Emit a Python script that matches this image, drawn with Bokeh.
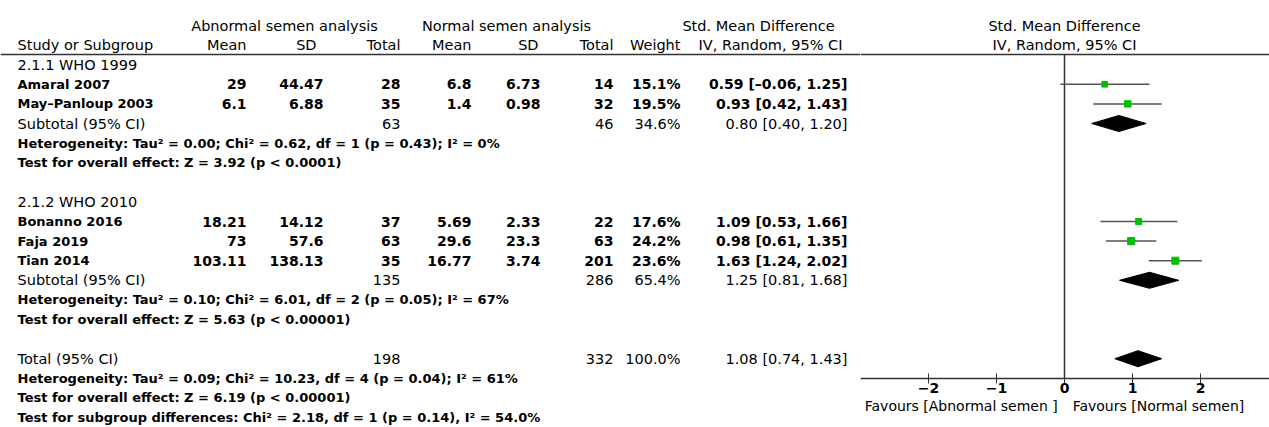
from math import sqrt
from bokeh.plotting import figure
from bokeh.layouts import row
from bokeh.models import Range1d, LinearAxis, FixedTicker, Span
from bokeh.core.properties import value
from bokeh.embed import file_html
from bokeh.resources import INLINE

# ---------------- data ----------------
groups = ["2.1.1 WHO 1999", "2.1.2 WHO 2010"]
study = ["Amaral 2007", "May–Panloup 2003", "Bonanno 2016", "Faja 2019", "Tian 2014"]
study_group = [0, 0, 1, 1, 1]
ab_mean = [29, 6.1, 18.21, 73, 103.11]
ab_sd = [44.47, 6.88, 14.12, 57.6, 138.13]
ab_n = [28, 35, 37, 63, 35]
no_mean = [6.8, 1.4, 5.69, 29.6, 16.77]
no_sd = [6.73, 0.98, 2.33, 23.3, 3.74]
no_n = [14, 32, 22, 63, 201]
weight = [15.1, 19.5, 17.6, 24.2, 23.6]
smd = [0.59, 0.93, 1.09, 0.98, 1.63]
ci_lo = [-0.06, 0.42, 0.53, 0.61, 1.24]
ci_hi = [1.25, 1.43, 1.66, 1.35, 2.02]

sub_ab_n = [63, 135]
sub_no_n = [46, 286]
sub_weight = [34.6, 65.4]
sub_smd = [0.80, 1.25]
sub_lo = [0.40, 0.81]
sub_hi = [1.20, 1.68]
sub_het = ["Heterogeneity: Tau² = 0.00; Chi² = 0.62, df = 1 (p = 0.43); I² = 0%",
           "Heterogeneity: Tau² = 0.10; Chi² = 6.01, df = 2 (p = 0.05); I² = 67%"]
sub_test = ["Test for overall effect: Z = 3.92 (p < 0.0001)",
            "Test for overall effect: Z = 5.63 (p < 0.00001)"]

tot_ab_n = 198
tot_no_n = 332
tot_weight = 100.0
tot_smd = 1.08
tot_lo = 0.74
tot_hi = 1.43
tot_het = "Heterogeneity: Tau² = 0.09; Chi² = 10.23, df = 4 (p = 0.04); I² = 61%"
tot_test = "Test for overall effect: Z = 6.19 (p < 0.00001)"
subgroup_test = "Test for subgroup differences: Chi² = 2.18, df = 1 (p = 0.14), I² = 54.0%"

axis_ticks = [-2, -1, 0, 1, 2]
favours_left = "Favours [Abnormal semen ]"
favours_right = "Favours [Normal semen]"

# ---------------- layout helpers ----------------
FONT = value("DejaVu Sans")
FS = "14.5px"      # normal text
FS_NAME = "13px"   # bold study names / statistics lines
FS_NUM = "14px"    # bold study numbers
H = 427
ROW0 = 25.0        # canvas y of row 0
STEP = 19.6        # px per row
y_top = -ROW0 / STEP
y_bot = (H - ROW0) / STEP

def fmt_ci(m, lo, hi):
    return f"{m:.2f} [{lo:.2f}, {hi:.2f}]".replace("-", "–")

# assign rows
study_rows = [0] * len(study)
group_rows, sub_rows, het_rows, test_rows = [], [], [], []
r = 2
for gi, g in enumerate(groups):
    group_rows.append(r)
    r += 1
    for i, sg in enumerate(study_group):
        if sg == gi:
            study_rows[i] = r
            r += 1
    sub_rows.append(r); r += 1
    het_rows.append(r); r += 1
    test_rows.append(r); r += 1
    r += 1
tot_row = r
tot_het_row = r + 1
tot_test_row = r + 2
subgroup_row = r + 3
axis_row = tot_het_row
header_line = 1.48

# ---------------- table figure ----------------
TW = 860
t = figure(width=TW, height=H, x_range=Range1d(0, TW), y_range=Range1d(y_bot, y_top),
           output_backend="svg", toolbar_location=None, x_axis_type=None, y_axis_type=None,
           min_border=0, outline_line_color=None, background_fill_color="white")
t.grid.visible = False

def txt(fig, xs, ys, texts, align="left", bold=False, size=FS):
    fig.text(x=xs, y=ys, text=texts, text_align=align, text_baseline="middle",
             text_font=FONT, text_font_size=size, text_color="black",
             text_font_style="bold" if bold else "normal")

# column positions (canvas px)
X_STUDY = 17
X_AM, X_ASD, X_AN = 246, 323, 400
X_NM, X_NSD, X_NN = 471, 540, 613
X_W, X_CI = 680, 847

# headers
txt(t, [284, 506, 758], [0, 0, 0],
    ["Abnormal semen analysis", "Normal semen analysis", "Std. Mean Difference"], align="center")
txt(t, [X_STUDY], [1], ["Study or Subgroup"])
txt(t, [X_AM, X_ASD - 7, X_AN, X_NM, X_NSD - 2, X_NN, X_W], [1] * 7,
    ["Mean", "SD", "Total", "Mean", "SD", "Total", "Weight"], align="right")
txt(t, [770], [1], ["IV, Random, 95% CI"], align="center")
t.add_layout(Span(location=header_line, dimension="width", line_color="#333333", line_width=1.5))

# groups
txt(t, [X_STUDY] * len(groups), group_rows, groups)
# studies
n = len(study)
txt(t, [X_STUDY] * n, study_rows, study, bold=True, size=FS_NAME)
txt(t, [X_AM] * n, study_rows, [str(v) for v in ab_mean], align="right", bold=True, size=FS_NUM)
txt(t, [X_ASD] * n, study_rows, [str(v) for v in ab_sd], align="right", bold=True, size=FS_NUM)
txt(t, [X_AN] * n, study_rows, [str(v) for v in ab_n], align="right", bold=True, size=FS_NUM)
txt(t, [X_NM] * n, study_rows, [str(v) for v in no_mean], align="right", bold=True, size=FS_NUM)
txt(t, [X_NSD] * n, study_rows, [str(v) for v in no_sd], align="right", bold=True, size=FS_NUM)
txt(t, [X_NN] * n, study_rows, [str(v) for v in no_n], align="right", bold=True, size=FS_NUM)
txt(t, [X_W] * n, study_rows, [f"{w:.1f}%" for w in weight], align="right", bold=True, size=FS_NUM)
txt(t, [X_CI] * n, study_rows,
    [fmt_ci(m, l, h) for m, l, h in zip(smd, ci_lo, ci_hi)], align="right", bold=True, size=FS_NUM)
# subtotals
txt(t, [X_STUDY] * 2, sub_rows, ["Subtotal (95% CI)"] * 2)
txt(t, [X_AN] * 2, sub_rows, [str(v) for v in sub_ab_n], align="right")
txt(t, [X_NN] * 2, sub_rows, [str(v) for v in sub_no_n], align="right")
txt(t, [X_W] * 2, sub_rows, [f"{w:.1f}%" for w in sub_weight], align="right")
txt(t, [X_CI] * 2, sub_rows,
    [fmt_ci(m, l, h) for m, l, h in zip(sub_smd, sub_lo, sub_hi)], align="right")
txt(t, [X_STUDY] * 2, het_rows, sub_het, bold=True, size=FS_NAME)
txt(t, [X_STUDY] * 2, test_rows, sub_test, bold=True, size=FS_NAME)
# total
txt(t, [X_STUDY], [tot_row], ["Total (95% CI)"])
txt(t, [X_AN, X_NN, X_W, X_CI], [tot_row] * 4,
    [str(tot_ab_n), str(tot_no_n), f"{tot_weight:.1f}%", fmt_ci(tot_smd, tot_lo, tot_hi)],
    align="right")
txt(t, [X_STUDY] * 3, [tot_het_row, tot_test_row, subgroup_row],
    [tot_het, tot_test, subgroup_test], bold=True, size=FS_NAME)

# ---------------- forest figure ----------------
FW = 409
PX_PER_UNIT = 68.0
x_left = -3.0
f = figure(width=FW, height=H, x_range=Range1d(x_left, x_left + FW / PX_PER_UNIT),
           y_range=Range1d(y_bot, y_top), output_backend="svg", toolbar_location=None,
           x_axis_type=None, y_axis_type=None, min_border=0, outline_line_color=None,
           background_fill_color="white")
f.grid.visible = False
f.add_layout(Span(location=header_line, dimension="width", line_color="#333333", line_width=1.5))

txt(f, [0, 0], [0, 1], ["Std. Mean Difference", "IV, Random, 95% CI"], align="center")

# zero line
f.segment(x0=[0], y0=[header_line], x1=[0], y1=[axis_row], line_color="#333333", line_width=1.5)

# study CIs and squares
f.segment(x0=ci_lo, y0=study_rows, x1=ci_hi, y1=study_rows, line_color="#555555", line_width=1.5)
f.scatter(x=smd, y=study_rows, marker="square", size=[1.45 * sqrt(w) for w in weight],
          fill_color="#00BF00", line_color="#00BF00")

# diamonds
DH = 0.41
dx, dy = [], []
for m, l, h, rr in zip(sub_smd + [tot_smd], sub_lo + [tot_lo], sub_hi + [tot_hi], sub_rows + [tot_row]):
    dx.append([l, m, h, m])
    dy.append([rr, rr - DH, rr, rr + DH])
f.patches(xs=dx, ys=dy, fill_color="black", line_color="black")

# axis
ax = LinearAxis(ticker=FixedTicker(ticks=axis_ticks), fixed_location=axis_row)
ax.major_label_overrides = {tk: str(tk).replace("-", "−") for tk in axis_ticks if tk < 0}
ax.axis_line_color = "#333333"
ax.axis_line_width = 1.5
ax.major_tick_line_color = "#333333"
ax.major_tick_in = 5
ax.major_tick_out = 5
ax.minor_tick_line_color = None
ax.major_label_standoff = 0
ax.major_label_text_font = "DejaVu Sans"
ax.major_label_text_font_size = "14px"
ax.major_label_text_font_style = "bold"
ax.major_label_text_color = "black"
f.add_layout(ax, "below")

fav_row = axis_row + 1.39
txt(f, [-0.1], [fav_row], [favours_left], align="right", size="14px")
txt(f, [0.12], [fav_row], [favours_right], align="left", size="14px")

layout = row(t, f, spacing=0)
open("out.html", "w").write(file_html(layout, INLINE))
